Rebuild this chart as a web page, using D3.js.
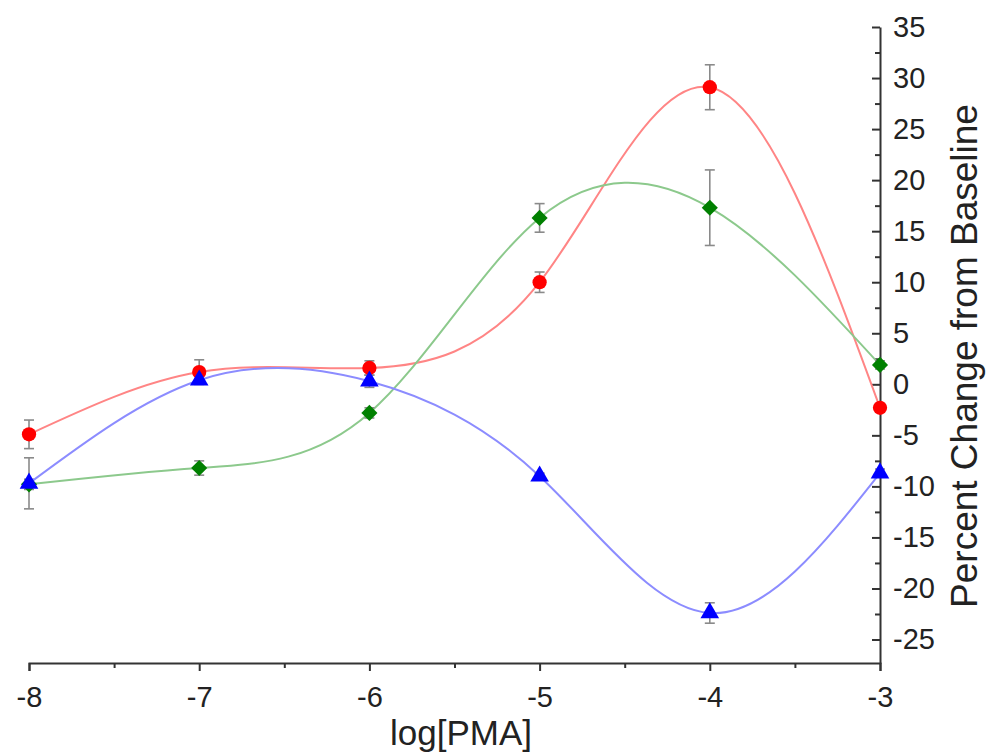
<!DOCTYPE html>
<html>
<head>
<meta charset="utf-8">
<script src="https://cdn.jsdelivr.net/npm/d3@7"></script>
<style>
  body { margin: 0; background: #fff; }
  text { font-family: "Liberation Sans", Arial, sans-serif; fill: #222; }
  .axis path, .axis line { stroke: #333; stroke-width: 2; }
  .axis text { font-size: 29px; }
</style>
</head>
<body>
<div id="plot"></div>
<script>
// log[PMA] concentrations
var logPMA = [-8, -7, -6, -5, -4, -3];

// percent change from baseline, one array per series
var redVals = [-4.9, 1.2, 1.6, 10.0, 29.1, -2.3];
var redErr = [1.4, 1.2, 0.7, 1.0, 2.2, 0.4];
var greenVals = [-9.8, -8.2, -2.8, 16.3, 17.3, 1.9];
var greenErr = [0.5, 0.7, 0.5, 1.4, 3.7, 0.4];
var blueVals = [-9.7, 0.4, 0.3, -9.0, -22.4, -8.7];
var blueErr = [2.5, 0.4, 0.6, 0.3, 1.0, 0.4];

var xTicks = [-8, -7, -6, -5, -4, -3];
var xMinor = [-7.5, -6.5, -5.5, -4.5, -3.5];
var yTicks = [-25, -20, -15, -10, -5, 0, 5, 10, 15, 20, 25, 30, 35];
var yMinor = [-22.5, -17.5, -12.5, -7.5, -2.5, 2.5, 7.5, 12.5, 17.5, 22.5, 27.5, 32.5];

var svgWidth = 990;
var svgHeight = 754;

var svg = d3.select("#plot")
  .append("svg")
  .attr("width", svgWidth)
  .attr("height", svgHeight);

var xScale = d3.scaleLinear().domain([-8, -3]).range([29, 880]);
var yScale = d3.scaleLinear().domain([-27.3, 35]).range([663, 27]);

// plain hyphen minus like the original
var fmt = d => String(d);

// axes
svg.append("g")
  .attr("class", "axis")
  .attr("transform", "translate(0," + yScale(-27.3) + ")")
  .call(d3.axisBottom(xScale).tickValues(xTicks).tickSizeOuter(0).tickSize(8).tickPadding(15).tickFormat(fmt));

svg.append("g")
  .attr("class", "axis")
  .attr("transform", "translate(0," + yScale(-27.3) + ")")
  .call(d3.axisBottom(xScale).tickValues(xMinor).tickSize(5).tickFormat(""))
  .call(g => g.select(".domain").remove());

svg.append("g")
  .attr("class", "axis")
  .attr("transform", "translate(" + xScale(-3) + ",0)")
  .call(d3.axisRight(yScale).tickValues(yTicks).tickSizeInner(-8).tickSizeOuter(0).tickPadding(13)
    .tickFormat(fmt));

svg.append("g")
  .attr("class", "axis")
  .attr("transform", "translate(" + xScale(-3) + ",0)")
  .call(d3.axisRight(yScale).tickValues(yMinor).tickSize(-5).tickFormat(""))
  .call(g => g.select(".domain").remove());

// axis labels
svg.append("text")
  .attr("x", 461)
  .attr("y", 745)
  .attr("text-anchor", "middle")
  .style("font-size", "35px")
  .text("log[PMA]");

svg.append("text")
  .attr("transform", "translate(977," + 356 + ") rotate(-90)")
  .attr("text-anchor", "middle")
  .style("font-size", "37px")
  .text("Percent Change from Baseline");

var series = [
  { vals: redVals, err: redErr, line: "#ff8585", fill: "#ff0000", shape: d3.symbolCircle, size: 160, rot: 0 },
  { vals: greenVals, err: greenErr, line: "#8cc98c", fill: "#008000", shape: d3.symbolSquare, size: 130, rot: 45 },
  { vals: blueVals, err: blueErr, line: "#8c8cff", fill: "#0000ff", shape: d3.symbolTriangle, size: 150, rot: 0 }
];

var line = d3.line()
  .x(d => xScale(d.x))
  .y(d => yScale(d.y))
  .curve(d3.curveNatural);

series.forEach(function (s) {
  var pts = logPMA.map((x, i) => ({ x: x, y: s.vals[i], e: s.err[i] }));

  svg.append("path")
    .datum(pts)
    .attr("d", line)
    .attr("fill", "none")
    .attr("stroke", s.line)
    .attr("stroke-width", 2);

  // error bars
  var eb = svg.append("g").attr("stroke", "#8a8a8a").attr("stroke-width", 1.6);
  pts.forEach(function (p) {
    var cx = xScale(p.x);
    eb.append("line").attr("x1", cx).attr("x2", cx)
      .attr("y1", yScale(p.y - p.e)).attr("y2", yScale(p.y + p.e));
    eb.append("line").attr("x1", cx - 5).attr("x2", cx + 5)
      .attr("y1", yScale(p.y + p.e)).attr("y2", yScale(p.y + p.e));
    eb.append("line").attr("x1", cx - 5).attr("x2", cx + 5)
      .attr("y1", yScale(p.y - p.e)).attr("y2", yScale(p.y - p.e));
  });
});

series.forEach(function (s) {
  var pts = logPMA.map((x, i) => ({ x: x, y: s.vals[i] }));
  svg.append("g").selectAll("path")
    .data(pts)
    .enter()
    .append("path")
    .attr("transform", d => "translate(" + xScale(d.x) + "," + yScale(d.y) + ") rotate(" + s.rot + ")")
    .attr("d", d3.symbol().type(s.shape).size(s.size))
    .attr("fill", s.fill);
});
</script>
</body>
</html>
